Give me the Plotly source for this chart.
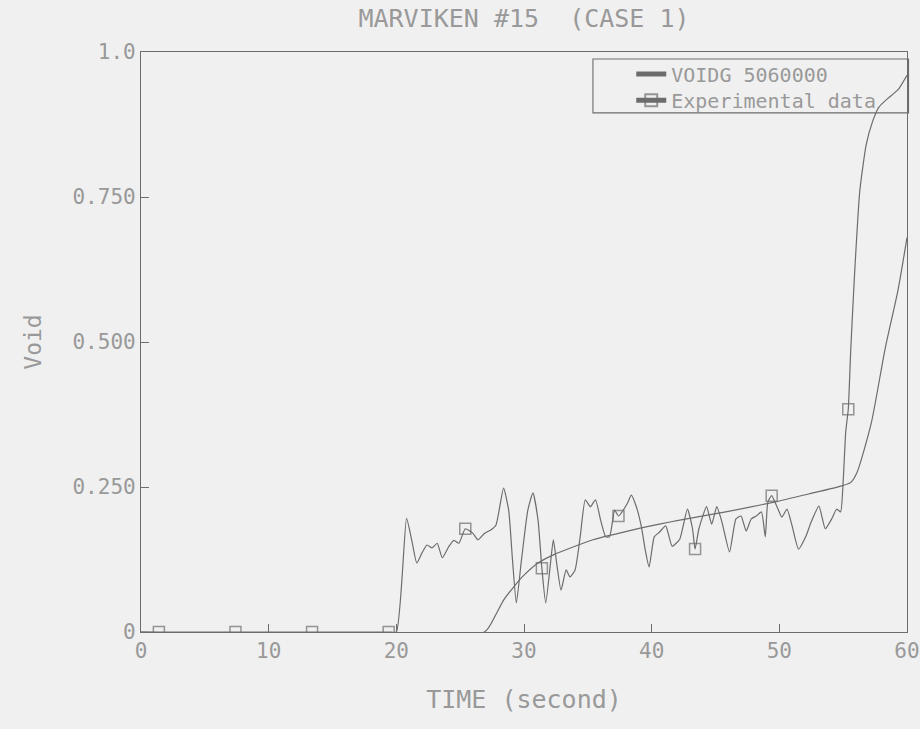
import plotly.graph_objects as go

# Experimental data (oscillating curve), time in s, void fraction
exp_t = [0, 1.4, 7.4, 13.4, 19.4, 20.0, 20.8, 21.2, 21.6, 22.0, 22.4, 22.8, 23.2, 23.6,
         24.1, 24.5, 24.9, 25.4, 26.0, 26.4, 26.9, 27.4, 27.8, 28.4, 28.8, 29.1, 29.4,
         29.8, 30.3, 30.7, 31.1, 31.4, 31.7, 32.1, 32.3, 32.6, 32.9, 33.3, 33.6, 34.0,
         34.4, 34.8, 35.2, 35.6, 36.0, 36.4, 36.7, 37.1, 37.4, 38.1, 38.4, 38.8, 39.2,
         39.5, 39.8, 40.2, 40.6, 41.1, 41.6, 42.2, 42.8, 43.2, 43.4, 43.7, 44.3, 44.7,
         45.1, 45.5, 46.1, 46.6, 47.0, 47.4, 47.8, 48.2, 48.6, 48.9, 49.1, 49.4, 49.8,
         50.2, 50.6, 51.0, 51.5, 52.1, 52.5, 53.1, 53.6, 54.1, 54.5, 54.8, 55.0, 55.2,
         55.4, 55.6, 55.9, 56.3, 56.8, 57.3, 57.8, 58.5, 59.3, 60.0]
exp_v = [0, 0, 0, 0, 0, 0, 0.196, 0.159, 0.119, 0.136, 0.150, 0.145, 0.153, 0.128,
         0.147, 0.158, 0.153, 0.178, 0.170, 0.159, 0.170, 0.176, 0.184, 0.248, 0.210, 0.124, 0.050,
         0.124, 0.210, 0.240, 0.193, 0.110, 0.050, 0.124, 0.159, 0.112, 0.072, 0.107, 0.095, 0.107,
         0.164, 0.228, 0.216, 0.228, 0.193, 0.164, 0.164, 0.210, 0.200, 0.222, 0.236, 0.216, 0.181,
         0.141, 0.112, 0.164, 0.172, 0.183, 0.148, 0.160, 0.212, 0.178, 0.143, 0.178, 0.216, 0.186,
         0.216, 0.190, 0.138, 0.195, 0.200, 0.174, 0.195, 0.200, 0.207, 0.164, 0.224, 0.235, 0.217,
         0.198, 0.212, 0.183, 0.143, 0.166, 0.190, 0.217, 0.178, 0.195, 0.212, 0.207, 0.260, 0.345,
         0.384, 0.490, 0.620, 0.760, 0.840, 0.880, 0.905, 0.920, 0.935, 0.960]
marker_t = [1.4, 7.4, 13.4, 19.4, 25.4, 31.4, 37.4, 43.4, 49.4, 55.4]

# VOIDG 5060000 (smooth curve)
calc_t = [0, 26.9, 27.7, 28.4, 29.2, 30.0, 31.1, 32.3, 33.9, 35.4, 37.0, 39.1, 40.6,
          42.2, 45.8, 49.4, 52.3, 54.9, 55.6, 56.1, 57.2, 58.3, 59.3, 60.0]
calc_v = [0, 0, 0.026, 0.055, 0.078, 0.098, 0.119, 0.133, 0.147, 0.159, 0.168, 0.179, 0.186,
          0.193, 0.207, 0.223, 0.238, 0.252, 0.258, 0.276, 0.360, 0.490, 0.590, 0.680]

x_ticks = [0, 10, 20, 30, 40, 50, 60]
y_ticks = [0, 0.25, 0.5, 0.75, 1.0]
y_tick_text = ["0", "0.250", "0.500", "0.750", "1.0"]

LINE = "#6c6c6c"
TEXT = "#999999"
BG = "#f0f0f0"
FONT = "DejaVu Sans Mono"

marker_sizes = [11 if t in marker_t else 0 for t in exp_t]

fig = go.Figure()
fig.add_trace(go.Scatter(
    x=calc_t, y=calc_v, mode="lines", name="VOIDG 5060000", legend="legend",
    line=dict(color=LINE, width=1.2, shape="spline", smoothing=0.6)))
fig.add_trace(go.Scatter(
    x=exp_t, y=exp_v, mode="lines+markers", name="Experimental data", legend="legend2",
    line=dict(color=LINE, width=1.2, shape="spline", smoothing=0.5),
    marker=dict(symbol="square-open", size=marker_sizes, color=LINE,
                line=dict(width=1.5, color=LINE))))

# legend frame (drawn as a box in the upper right of the plot area)
fig.add_shape(type="rect", xref="paper", yref="paper",
              x0=0.590, x1=1.002, y0=0.895, y1=0.988,
              line=dict(color=LINE, width=1.1), fillcolor="rgba(0,0,0,0)")

legend_style = dict(xanchor="left", yanchor="middle", bgcolor="rgba(0,0,0,0)",
                    borderwidth=0, font=dict(size=20, color=TEXT),
                    itemsizing="constant", itemwidth=30)

fig.update_layout(
    width=920, height=729,
    margin=dict(l=141, r=13, t=52, b=97),
    paper_bgcolor=BG, plot_bgcolor=BG,
    font=dict(family=FONT, color=TEXT, size=21),
    title=dict(text="MARVIKEN #15  (CASE 1)", x=0.5, xref="paper", y=0.975,
               yanchor="middle", font=dict(size=25, color=TEXT)),
    showlegend=True,
    legend=dict(x=0.640, y=0.962, **legend_style),
    legend2=dict(x=0.640, y=0.917, **legend_style),
)
fig.update_xaxes(
    range=[0, 60], tickvals=x_ticks, ticks="inside", ticklen=8,
    tickcolor=LINE, showline=True, linecolor=LINE, linewidth=1.2, mirror=True,
    showgrid=False, zeroline=False, ticklabeloverflow="allow", automargin=False,
    title=dict(text="TIME (second)", font=dict(size=25, color=TEXT), standoff=28),
    tickfont=dict(size=21, color=TEXT))
fig.update_yaxes(
    range=[0, 1.0], tickvals=y_ticks, ticktext=y_tick_text, ticks="inside",
    ticklen=8, tickcolor=LINE, showline=True, linecolor=LINE, linewidth=1.2,
    mirror=True, showgrid=False, zeroline=False, automargin=False,
    title=dict(text="Void", font=dict(size=23, color=TEXT), standoff=24),
    tickfont=dict(size=21, color=TEXT))

fig.write_html("out.html")
